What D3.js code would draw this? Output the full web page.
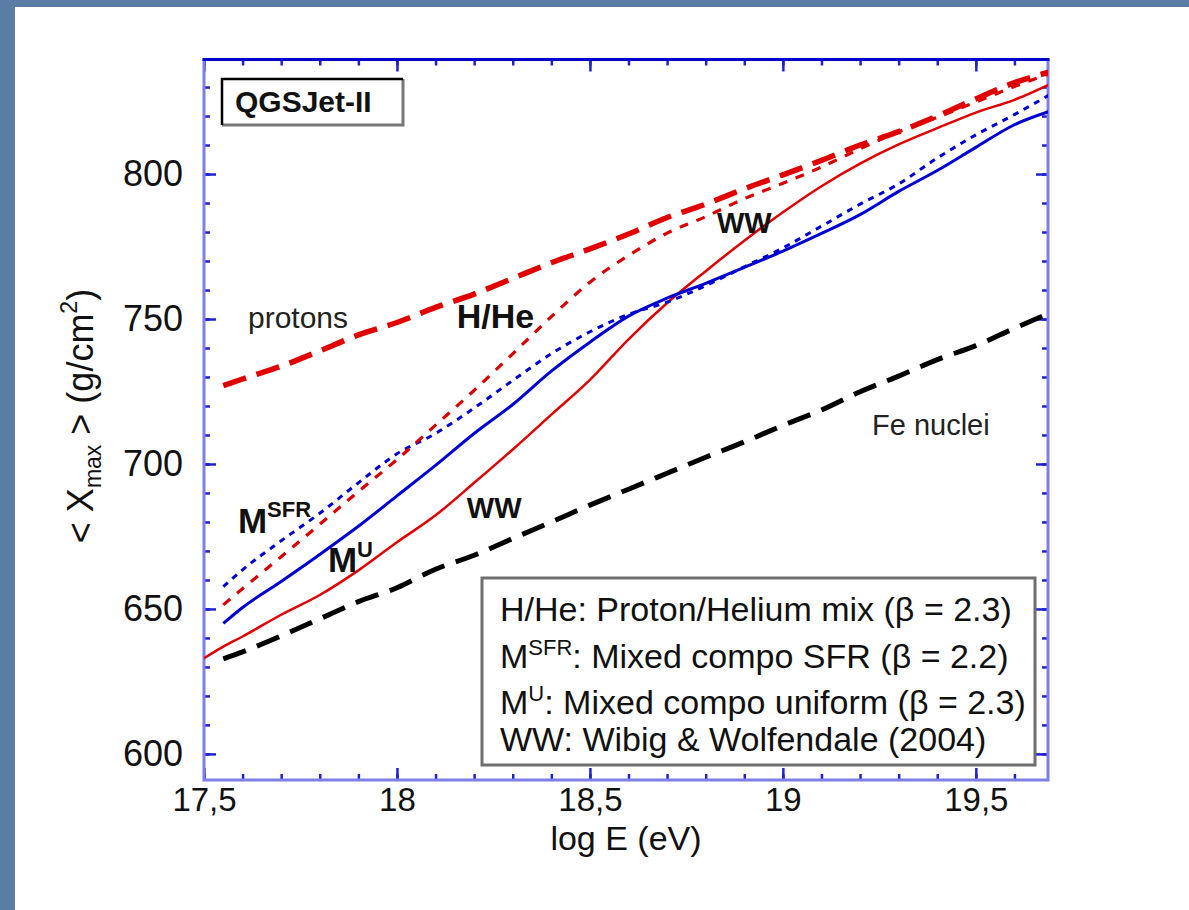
<!DOCTYPE html>
<html>
<head>
<meta charset="utf-8">
<script src="https://cdn.jsdelivr.net/npm/d3@7/dist/d3.min.js"></script>
<style>
  body { margin: 0; background: #fff; }
  svg { display: block; font-family: "Liberation Sans", Arial, Helvetica, sans-serif; }
</style>
</head>
<body>
<svg id="chart"></svg>
<script>
// log E grid (eV) shared by all curves
const logE = [17.5, 17.55, 17.6, 17.7, 17.8, 17.9, 18.0, 18.1, 18.2, 18.3, 18.4, 18.5,
  18.6, 18.7, 18.8, 18.9, 19.0, 19.1, 19.2, 19.3, 19.4, 19.5, 19.6, 19.7];

// <Xmax> in g/cm2
const protons = [null, 727, 729.3, 733.7, 739, 744.5, 748.8, 754, 758.6, 764, 769.4, 774.2,
  779.3, 785, 789.6, 794.9, 799.7, 804.7, 810, 814.6, 820, 825.9, 831.5, 835.5];
const hHe = [null, 651.4, 657, 668, 679.2, 690.5, 701.5, 713.4, 725.4, 738, 750.8, 762.7,
  771.9, 779.6, 785.3, 791.5, 796.8, 802.4, 808.7, 814.6, 819.6, 824.8, 830.2, 835];
const mSFR = [null, 657.7, 663.5, 673.5, 683, 693.5, 703.5, 710.5, 719.3, 728.8, 738, 745.6,
  751.6, 755.8, 761.5, 768, 774.5, 782, 789.6, 796.6, 805.5, 813.5, 820.5, 828];
const mU = [null, 645, 650.5, 659.5, 668.8, 678.5, 689, 699.5, 710.5, 720.5, 732, 742,
  751, 757.2, 762.3, 767.8, 773.4, 779.5, 786, 794, 801.2, 809.2, 817, 822];
const ww = [633, 637, 640.5, 648, 654.8, 663.3, 673, 682.3, 693.5, 705, 717, 729,
  743, 755.5, 766.5, 777, 786.8, 795.8, 803.6, 810.2, 815.8, 821.2, 825.6, 831.5];
const fe = [null, 632.8, 635.2, 640.7, 646.6, 652.5, 657.3, 663.7, 668.5, 674.3, 680, 685.8,
  691.3, 696.8, 702.3, 707.6, 713.3, 718.6, 724.9, 730.3, 736, 740.8, 746.8, 752.5];

// ticks
const xMajor = [17.5, 18, 18.5, 19, 19.5];
const xTickLabels = ['17,5', '18', '18,5', '19', '19,5'];
const yMajor = [600, 650, 700, 750, 800];

// legend lines
const legendRows = [
  { head: 'H/He', sup: '', text: ': Proton/Helium mix (\u03b2 = 2.3)' },
  { head: 'M', sup: 'SFR', text: ': Mixed compo SFR (\u03b2 = 2.2)' },
  { head: 'M', sup: 'U', text: ': Mixed compo uniform (\u03b2 = 2.3)' },
  { head: 'WW', sup: '', text: ': Wibig & Wolfendale (2004)' }
];

const width = 1189, height = 910;
const pLeft = 204, pRight = 1048, pTop = 59.5, pBottom = 780;

const svg = d3.select('#chart')
    .attr('width', width)
    .attr('height', height);

// slide background border
svg.append('rect').attr('width', width).attr('height', height).attr('fill', '#5b7ca5');
svg.append('rect').attr('x', 15).attr('y', 7).attr('width', width - 15).attr('height', height - 7)
    .attr('fill', '#fff');

let x = d3.scaleLinear().domain([17.5, 19.687]).range([pLeft, pRight]);
let y = d3.scaleLinear().domain([591, 839.5]).range([pBottom, pTop]);

svg.append('clipPath').attr('id', 'plot')
  .append('rect')
    .attr('x', pLeft).attr('y', pTop)
    .attr('width', pRight - pLeft).attr('height', pBottom - pTop);

// minor + major ticks on all four sides, pointing inward
const xMinor = d3.range(17.5, 19.69, 0.1);
const yMinor = d3.range(600, 840, 10);

function tickAxis(axis, g) {
  g.call(axis);
  g.select('.domain').remove();
  g.selectAll('.tick line').attr('stroke', '#2020d0').attr('stroke-width', 2.5);
  return g;
}

[[d3.axisBottom, pBottom], [d3.axisTop, pTop]].forEach(([fn, pos]) => {
  tickAxis(fn(x).tickValues(xMinor).tickSizeInner(-6).tickSizeOuter(0).tickFormat(''),
      svg.append('g').attr('transform', 'translate(0,' + pos + ')'));
});
[[d3.axisLeft, pLeft], [d3.axisRight, pRight]].forEach(([fn, pos]) => {
  tickAxis(fn(y).tickValues(yMinor).tickSizeInner(-6).tickSizeOuter(0).tickFormat(''),
      svg.append('g').attr('transform', 'translate(' + pos + ',0)'));
});

let xAxis = tickAxis(d3.axisBottom(x).tickValues(xMajor).tickSizeInner(-12).tickSizeOuter(0)
      .tickPadding(8).tickFormat((d, i) => xTickLabels[i]),
    svg.append('g').attr('transform', 'translate(0,' + pBottom + ')'));
tickAxis(d3.axisTop(x).tickValues(xMajor).tickSizeInner(-12).tickSizeOuter(0).tickFormat(''),
    svg.append('g').attr('transform', 'translate(0,' + pTop + ')'));
let yAxis = tickAxis(d3.axisLeft(y).tickValues(yMajor).tickSizeInner(-12).tickSizeOuter(0)
      .tickPadding(21),
    svg.append('g').attr('transform', 'translate(' + pLeft + ',0)'));
tickAxis(d3.axisRight(y).tickValues(yMajor).tickSizeInner(-12).tickSizeOuter(0).tickFormat(''),
    svg.append('g').attr('transform', 'translate(' + pRight + ',0)'));

xAxis.selectAll('.tick text')
    .attr('font-family', '"Liberation Sans", Arial, sans-serif')
    .attr('font-size', 33)
    .attr('fill', '#111');
yAxis.selectAll('.tick text')
    .attr('font-family', '"Liberation Sans", Arial, sans-serif')
    .attr('font-size', 36)
    .attr('fill', '#111');

// frame
svg.append('path')
    .attr('d', `M${pLeft},${pTop}V${pBottom}H${pRight}V${pTop}`)
    .attr('fill', 'none').attr('stroke', '#7f7fe8').attr('stroke-width', 3);
svg.append('line')
    .attr('x1', pLeft - 1.5).attr('x2', pRight + 1.5).attr('y1', pTop).attr('y2', pTop)
    .attr('stroke', '#0000cc').attr('stroke-width', 3);

// curves
let line = d3.line()
    .defined(d => d[1] != null)
    .x(d => x(d[0]))
    .y(d => y(d[1]))
    .curve(d3.curveMonotoneX);

const curves = [
  { values: fe, color: '#000', width: 5, dash: '24,12' },
  { values: ww, color: '#e00000', width: 2.5, dash: null },
  { values: mU, color: '#0000d0', width: 3, dash: null },
  { values: mSFR, color: '#0000d0', width: 3, dash: '6,6' },
  { values: hHe, color: '#d80000', width: 3.2, dash: '9,9' },
  { values: protons, color: '#e00000', width: 5.5, dash: '24,11' }
];

svg.append('g').attr('clip-path', 'url(#plot)')
  .selectAll('path')
  .data(curves)
  .enter()
  .append('path')
    .attr('d', c => line(logE.map((e, i) => [e, c.values[i]])))
    .attr('fill', 'none')
    .attr('stroke', c => c.color)
    .attr('stroke-width', c => c.width)
    .attr('stroke-dasharray', c => c.dash);

// annotations on the plot
function note(px, py, txt, size, weight, fill) {
  return svg.append('text')
      .attr('x', x(px)).attr('y', y(py))
      .attr('font-size', size)
      .attr('font-weight', weight)
      .attr('fill', fill || '#222')
      .text(txt);
}
note(17.614, 746.9, 'protons', 30, 'normal');
note(18.155, 746.9, 'H/He', 34, 'bold', '#111');
note(18.829, 779.7, 'WW', 29, 'bold', '#111');
note(18.181, 681.4, 'WW', 29, 'bold', '#111');
note(19.231, 710, 'Fe nuclei', 29, 'normal');

let msfr = note(17.588, 676.2, 'M', 35, 'bold', '#111');
msfr.append('tspan').attr('dy', -16).attr('font-size', 22).text('SFR');
let mu = note(17.821, 662.7, 'M', 35, 'bold', '#111');
mu.append('tspan').attr('dy', -15).attr('font-size', 22).text('U');

// QGSJet-II panel label
svg.append('path').attr('d', 'M403,79V125H222')
    .attr('fill', 'none').attr('stroke', '#777').attr('stroke-width', 3);
svg.append('path').attr('d', 'M222,125V79H403')
    .attr('fill', 'none').attr('stroke', '#000').attr('stroke-width', 2.5);
svg.append('text')
    .attr('x', 235).attr('y', 112)
    .attr('font-size', 30)
    .attr('font-weight', 'bold')
    .attr('fill', '#111')
    .text('QGSJet-II');

// legend
svg.append('rect')
    .attr('x', 482).attr('y', 578)
    .attr('width', 553).attr('height', 187)
    .attr('fill', '#fff')
    .attr('stroke', '#6e6e6e')
    .attr('stroke-width', 3);

const rowY = [621, 668, 714, 751];
legendRows.forEach((r, i) => {
  let t = svg.append('text')
      .attr('x', 500).attr('y', rowY[i])
      .attr('font-size', 34)
      .attr('fill', '#111');
  t.append('tspan').text(r.head);
  if (r.sup) {
    t.append('tspan').attr('dy', -13).attr('font-size', 22).text(r.sup);
    t.append('tspan').attr('dy', 13).text(r.text);
  } else {
    t.append('tspan').text(r.text);
  }
});

// axis titles
svg.append('text')
    .attr('x', (pLeft + pRight) / 2).attr('y', 850)
    .attr('text-anchor', 'middle')
    .attr('font-size', 34)
    .attr('fill', '#111')
    .text('log E (eV)');

let yt = svg.append('text')
    .attr('transform', 'translate(93,416) rotate(-90)')
    .attr('text-anchor', 'middle')
    .attr('font-size', 36)
    .attr('fill', '#111');
yt.append('tspan').text('< X');
yt.append('tspan').attr('dy', 8).attr('font-size', 23).text('max');
yt.append('tspan').attr('dy', -8).text(' > (g/cm');
yt.append('tspan').attr('dy', -16).attr('font-size', 23).text('2');
yt.append('tspan').attr('dy', 16).text(')');
</script>
</body>
</html>
